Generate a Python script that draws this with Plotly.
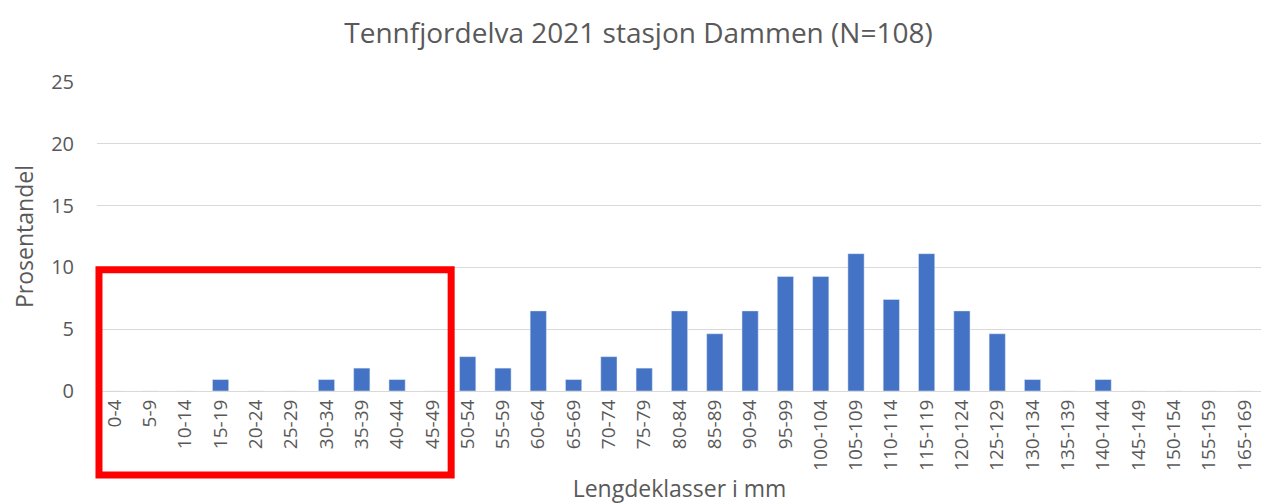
import plotly.graph_objects as go

categories = ["0-4", "5-9", "10-14", "15-19", "20-24", "25-29", "30-34", "35-39", "40-44", "45-49",
              "50-54", "55-59", "60-64", "65-69", "70-74", "75-79", "80-84", "85-89", "90-94", "95-99",
              "100-104", "105-109", "110-114", "115-119", "120-124", "125-129", "130-134", "135-139",
              "140-144", "145-149", "150-154", "155-159", "165-169"]
counts = [0, 0, 0, 1, 0, 0, 1, 2, 1, 0,
          3, 2, 7, 1, 3, 2, 7, 5, 7, 10,
          10, 12, 8, 12, 7, 5, 1, 0,
          1, 0, 0, 0, 0]
N = 108
percent = [c * 100.0 / N for c in counts]

font_family = "Open Sans, Liberation Sans, sans-serif"
grey = "#595959"

fig = go.Figure(go.Bar(x=categories, y=percent, marker_color="#4472C4", width=0.46))

fig.update_layout(
    width=1261, height=496,
    margin=dict(l=89, r=7, t=74, b=113, autoexpand=False),
    paper_bgcolor="white", plot_bgcolor="white",
    font=dict(family=font_family, color=grey, size=16),
    title=dict(text="Tennfjordelva 2021 stasjon Dammen (N=108)", x=0.5, xanchor="center",
               y=0.95, yanchor="middle", font=dict(size=28, color=grey)),
    showlegend=False,
    shapes=[dict(type="rect", xref="paper", yref="paper", x0=0.0017, x1=0.304, y0=-0.272, y1=0.392,
                 line=dict(color="#FF0000", width=7), fillcolor="rgba(0,0,0,0)", layer="above")],
)
fig.update_xaxes(type="category", tickangle=-90, tickfont=dict(size=19, color=grey),
                 showgrid=False, showline=True, linecolor="#d9d9d9", ticks="", automargin=False,
                 title=dict(text="Lengdeklasser i mm", font=dict(size=23, color=grey), standoff=13))
fig.update_yaxes(range=[0, 25], dtick=5, tickfont=dict(size=20, color=grey), automargin=False,
                 gridcolor="#d9d9d9", zeroline=False, ticks="", ticklabelstandoff=22,
                 title=dict(text="Prosentandel", font=dict(size=23, color=grey), standoff=36))

fig.write_html("out.html")
